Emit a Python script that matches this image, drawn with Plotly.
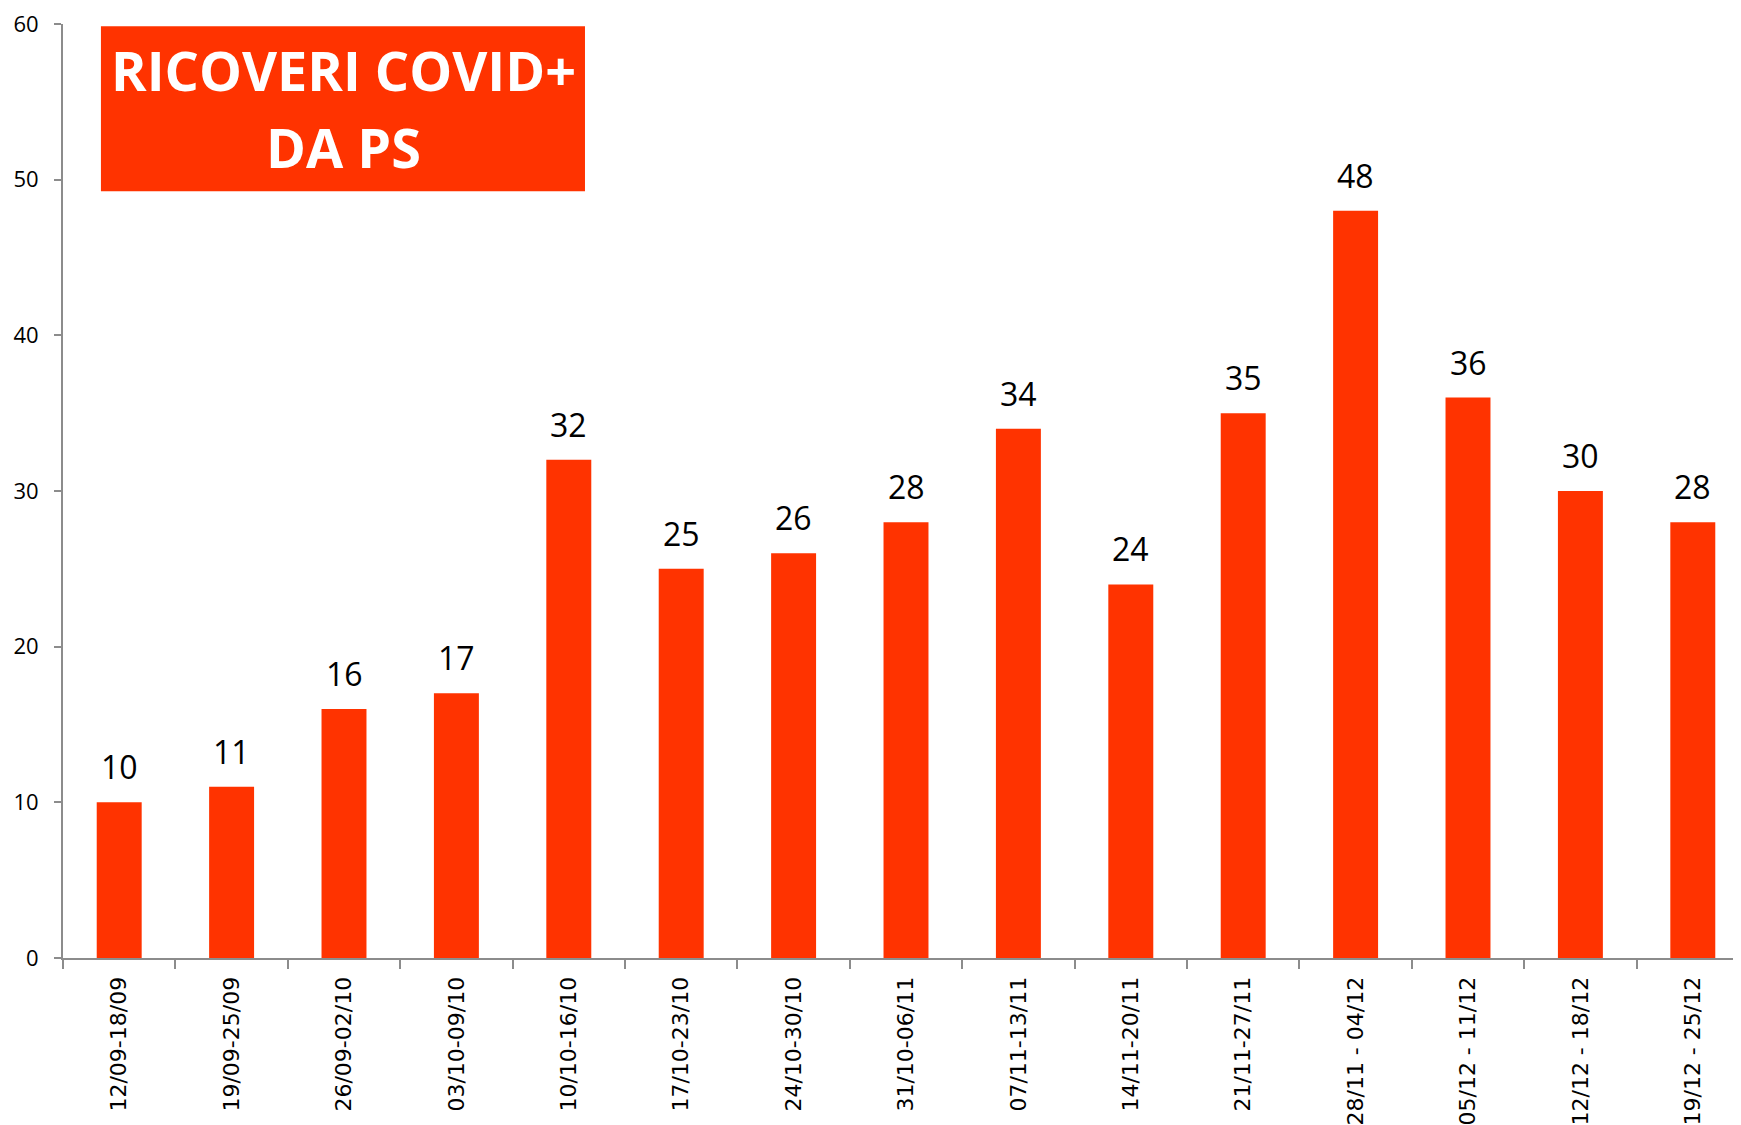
import plotly.graph_objects as go

categories = ["12/09-18/09", "19/09-25/09", "26/09-02/10", "03/10-09/10", "10/10-16/10",
              "17/10-23/10", "24/10-30/10", "31/10-06/11", "07/11-13/11", "14/11-20/11",
              "21/11-27/11", "28/11 - 04/12", "05/12 - 11/12", "12/12 - 18/12", "19/12 - 25/12"]
values = [10, 11, 16, 17, 32, 25, 26, 28, 34, 24, 35, 48, 36, 30, 28]
title_lines = ["RICOVERI COVID+", "DA PS"]

BAR = "#FF3300"
AXIS = "#8c8c8c"

fig = go.Figure()
fig.add_trace(go.Bar(
    x=categories, y=values, marker_color=BAR, marker_line_width=0,
))

for c, v in zip(categories, values):
    fig.add_annotation(x=c, y=v, xref="x", yref="y", text=str(v), showarrow=False,
                       yanchor="bottom", yshift=12,
                       font=dict(family="Open Sans", size=32, color="black"))

fig.add_shape(type="rect", xref="paper", yref="paper",
              x0=0.0225, x1=0.3096, y0=0.821, y1=0.9975,
              fillcolor=BAR, line_width=0, layer="above")
for line, yy in zip(title_lines, [0.951, 0.868]):
    fig.add_annotation(xref="paper", yref="paper", x=0.1664, y=yy,
                       xanchor="center", yanchor="middle", text="<b>" + line + "</b>",
                       showarrow=False,
                       font=dict(family="Open Sans", size=54, color="white"))

fig.update_layout(
    width=1741, height=1125,
    margin=dict(l=55, r=0, t=14, b=175),
    plot_bgcolor="white", paper_bgcolor="white",
    bargap=0.6, showlegend=False,
    xaxis=dict(type="category", range=[-0.5, 14.5], showline=True, linecolor=AXIS, linewidth=2,
               ticks="outside", tickson="boundaries", ticklen=9, tickcolor=AXIS, tickwidth=2,
               tickangle=-90, showgrid=False, ticklabelstandoff=8, ticklabeloverflow="allow",
               tickfont=dict(family="DejaVu Sans", size=22, color="black")),
    yaxis=dict(range=[0, 60], dtick=10, showline=True, linecolor=AXIS, linewidth=2,
               ticks="outside", ticklen=7, tickcolor=AXIS, tickwidth=2, showgrid=False,
               zeroline=False, ticklabelstandoff=11, ticklabeloverflow="allow",
               tickfont=dict(family="Open Sans", size=22, color="black")),
)

fig.write_html("out.html")
